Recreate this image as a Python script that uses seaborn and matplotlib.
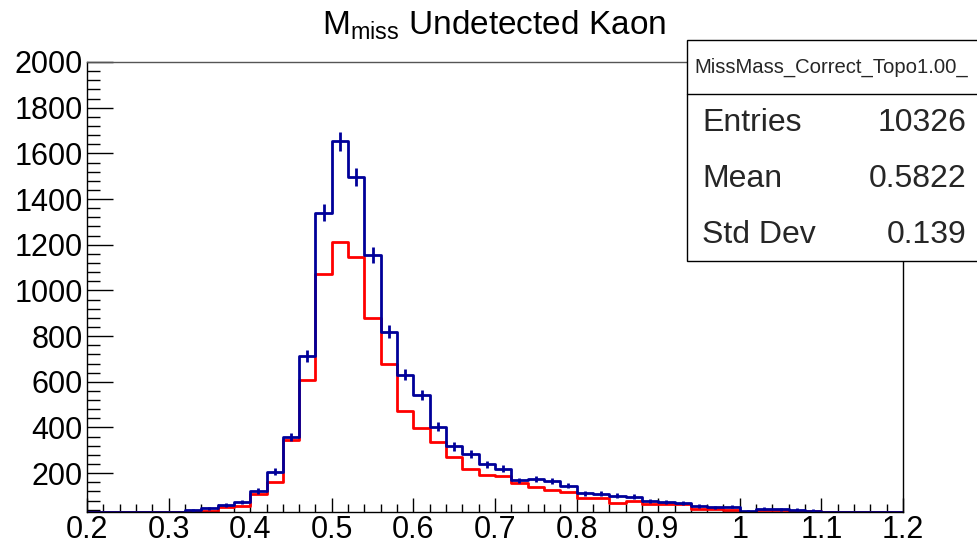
import numpy as np
import pandas as pd
import matplotlib
matplotlib.use("Agg")
import matplotlib.pyplot as plt
import seaborn as sns
from matplotlib.patches import Rectangle
from matplotlib.lines import Line2D

# ---- data (bin width 0.02, range 0.2 - 1.2) ----
bin_edges = [round(0.20 + 0.02 * i, 2) for i in range(51)]
blue_counts = [0, 0, 0, 0, 0, 0, 37, 46, 61, 73,
               122, 207, 358, 714, 1340, 1652, 1497, 1154, 820, 631,
               542, 404, 317, 285, 239, 219, 168, 174, 166, 146,
               112, 110, 102, 97, 80, 75, 70, 57, 51, 54,
               33, 45, 43, 40, 36, 0, 0, 0, 0, 0]
red_counts = [0, 0, 0, 0, 0, 0, 0, 36, 53, 58,
              107, 160, 345, 607, 1073, 1214, 1147, 879, 676, 472,
              396, 337, 270, 220, 192, 188, 159, 141, 127, 117,
              92, 92, 68, 77, 64, 66, 64, 45, 43, 39,
              30, 39, 37, 36, 33, 0, 0, 0, 0, 0]
stats_name = "MissMass_Correct_Topo1.00_"
stats_labels = ["Entries", "Mean", "Std Dev"]
stats_values = ["10326", "0.5822", "0.139"]
y_min, y_max = 30, 2000

edges_arr = np.array(bin_edges)
centers = (edges_arr[:-1] + edges_arr[1:]) / 2
# ROOT draws bins below the frame minimum on the frame bottom
df = pd.DataFrame({"x": centers,
                   "blue": np.clip(blue_counts, y_min + 1, None),
                   "red": np.clip(red_counts, y_min + 1, None)})

sns.set_theme(style="white")
plt.rcParams["font.family"] = ["Liberation Sans", "DejaVu Sans"]

W, H = 978, 547
fig = plt.figure(figsize=(W / 100, H / 100), dpi=100)
ax = fig.add_axes([87 / W, (H - 512) / H, (903 - 87) / W, (512 - 62) / H])

red_c = "#ff0000"
blue_c = "#000099"
sns.histplot(data=df, x="x", weights="red", bins=bin_edges, element="step",
             fill=False, color=red_c, linewidth=2, ax=ax)
sns.histplot(data=df, x="x", weights="blue", bins=bin_edges, element="step",
             fill=False, color=blue_c, linewidth=2, ax=ax)
b = np.array(blue_counts, dtype=float)
mask = b > 0
ax.errorbar(centers[mask], b[mask], yerr=np.sqrt(b[mask]), fmt="none",
            ecolor=blue_c, elinewidth=2, capsize=0, zorder=5)

ax.set_xlim(0.2, 1.2)
ax.set_ylim(y_min, y_max)
ax.set_xlabel("")
ax.set_ylabel("")
ax.set_xticks(np.arange(0.2, 1.2001, 0.1))
ax.set_xticklabels(["0.2", "0.3", "0.4", "0.5", "0.6", "0.7", "0.8", "0.9", "1", "1.1", "1.2"])
ax.set_xticks(np.arange(0.2, 1.2001, 0.02), minor=True)
ax.set_yticks(np.arange(200, 2001, 200))
ax.set_yticks(np.arange(40, 2001, 40), minor=True)
ax.tick_params(axis="both", which="both", direction="in", colors="black",
               labelsize=22, width=1, top=False, right=False, bottom=True, left=True)
ax.tick_params(axis="y", which="major", length=18.5, pad=3)
ax.tick_params(axis="y", which="minor", length=9.6)
ax.tick_params(axis="x", which="major", length=10, pad=2)
ax.tick_params(axis="x", which="minor", length=5.8)
for s in ax.spines.values():
    s.set_color("black")
    s.set_linewidth(1)
ax.spines["top"].set_color("#555555")
ax.grid(False)

# title with subscript
fig.text(322 / W, 1 - 25 / H, r"M$_{\mathregular{miss}}$ Undetected Kaon",
         fontsize=24, ha="left", va="center", color="black")

# stats box
box = Rectangle((687 / W, 1 - 261 / H), 1.0, (261 - 40) / H, transform=fig.transFigure,
                facecolor="white", edgecolor="black", linewidth=1, zorder=10, clip_on=False)
fig.patches.append(box)
fig.lines.append(Line2D([687 / W, 1.0], [1 - 94 / H, 1 - 94 / H], transform=fig.transFigure,
                        color="black", linewidth=1, zorder=11))
fig.text(694 / W, 1 - 67 / H, stats_name, fontsize=14.6, ha="left", va="center", zorder=12)
ys = [123, 179, 235]
for lab, val, yy in zip(stats_labels, stats_values, ys):
    fig.text(702 / W, 1 - yy / H, lab, fontsize=23, ha="left", va="center", zorder=12)
    fig.text(967 / W, 1 - yy / H, val, fontsize=23, ha="right", va="center", zorder=12)

fig.savefig("out.png", dpi=100)
